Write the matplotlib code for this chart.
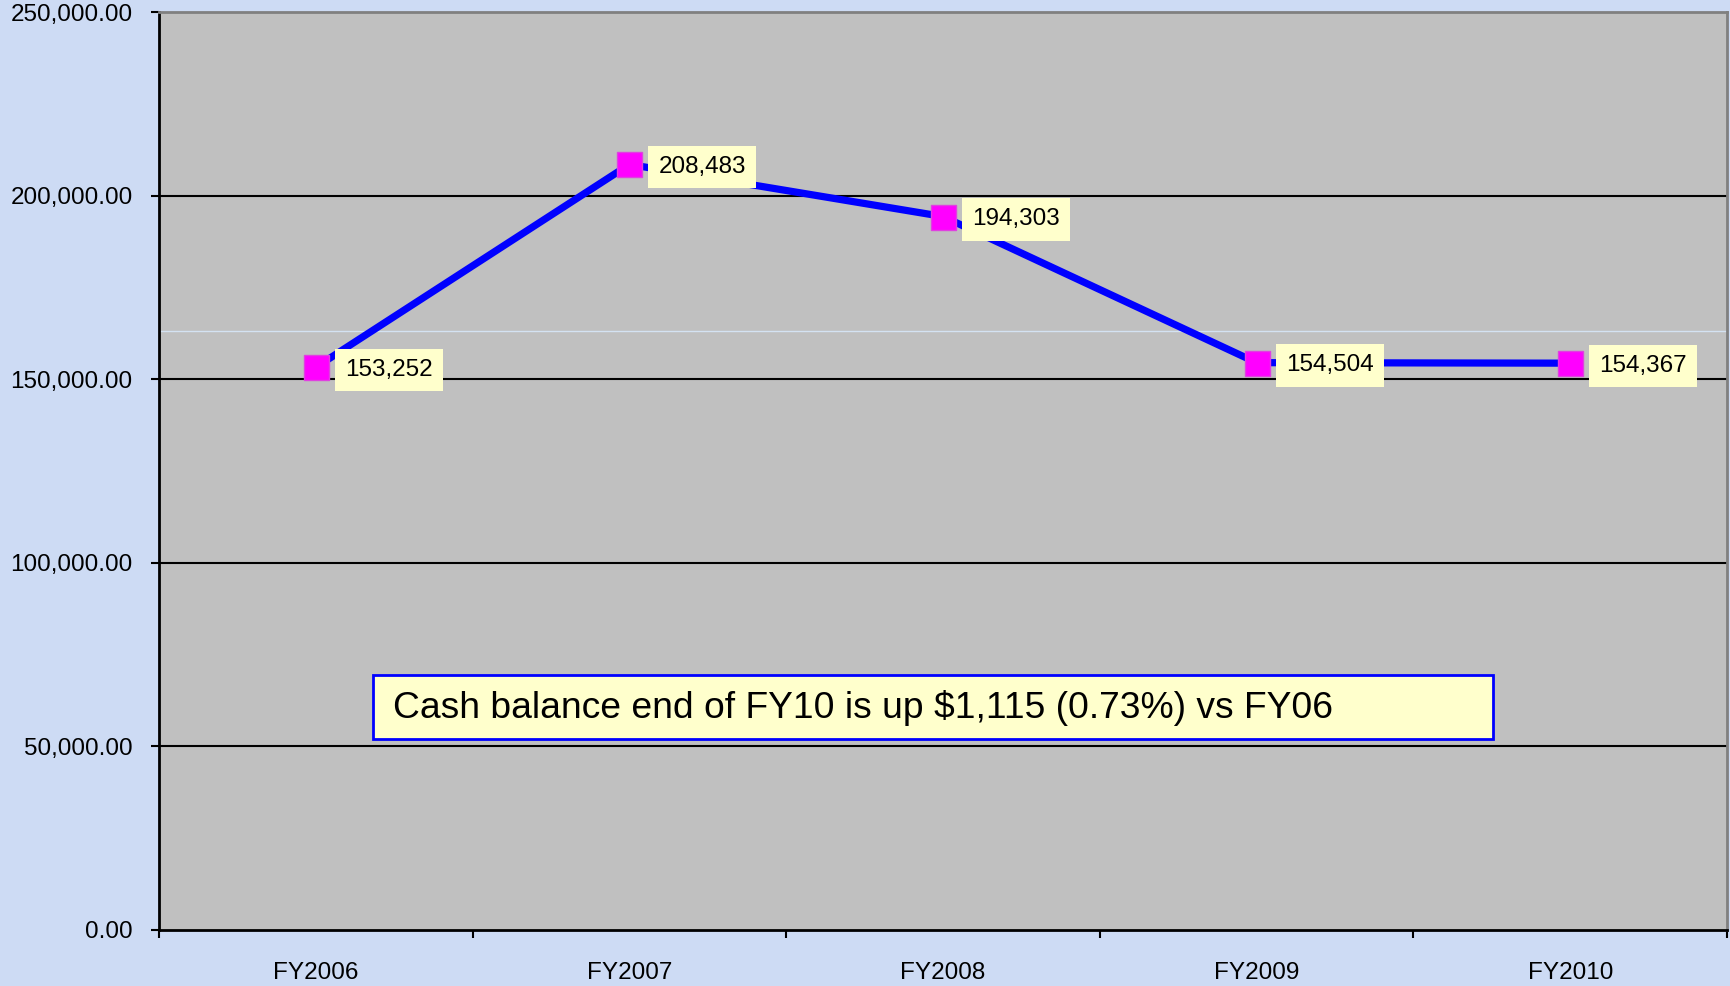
import matplotlib.pyplot as plt
from matplotlib.patches import Rectangle
from matplotlib.ticker import FuncFormatter, FixedLocator

# data
years = ['FY2006', 'FY2007', 'FY2008', 'FY2009', 'FY2010']
cash = [153252, 208483, 194303, 154504, 154367]
yticks = [0, 50000, 100000, 150000, 200000, 250000]
note = 'Cash balance end of FY10 is up $1,115 (0.73%) vs FY06'

plt.rcParams['font.family'] = ['Liberation Sans', 'DejaVu Sans']

fig = plt.figure(figsize=(17.3, 9.86), dpi=100)
fig.patch.set_facecolor('#cddbf4')
ax = fig.add_axes([159 / 1730, 1 - 930 / 986, 1568 / 1730, 918 / 986])
ax.set_facecolor('#c0c0c0')

x = list(range(len(years)))

# horizontal gridlines
for v in yticks[1:-1]:
    ax.axhline(v, color='black', lw=1.5, zorder=1)
# faint artefact line seen in the original
ax.axhline(163100, color='#d4e2f2', lw=1, zorder=1)

ax.plot(x, cash, color='#0000ff', lw=5.2, zorder=3)
ax.plot(x, cash, ls='none', marker='s', ms=18, mfc='#ff00ff',
        mec='#e040e0', mew=1, zorder=4)

#data labels
for xi, v in zip(x, cash):
    ax.annotate(f'{v:,}', (xi, v), xytext=(21, -2), textcoords='offset points',
                ha='left', va='center', fontsize=17.5, zorder=5,
                bbox=dict(boxstyle='square,pad=0.42', fc='#ffffcc', ec='none'))

# note box
ax.add_patch(Rectangle((0.1365, 0.208), 0.7143, 0.0698, transform=ax.transAxes,
                       fc='#ffffcc', ec='#0000ff', lw=2, zorder=5))
ax.text(0.149, 0.242, note, transform=ax.transAxes, ha='left', va='center',
        fontsize=26.8, zorder=6)

ax.set_xlim(-0.5, len(years) - 0.5)
ax.set_ylim(0, 250000)
ax.set_yticks(yticks)
ax.yaxis.set_major_formatter(FuncFormatter(lambda v, p: f'{v:,.2f}'))
ax.tick_params(axis='y', length=6, width=1.5, direction='out', pad=13, labelsize=17.5)

ax.set_xticks(x)
ax.set_xticklabels(years)
ax.xaxis.set_minor_locator(FixedLocator([i - 0.5 for i in range(len(years) + 1)]))
ax.tick_params(axis='x', which='major', length=0, pad=23, labelsize=17.5)
ax.tick_params(axis='x', which='minor', length=6, width=1.5, direction='out')

for s in ['left', 'bottom']:
    ax.spines[s].set_color('black')
    ax.spines[s].set_linewidth(2)
for s in ['top', 'right']:
    ax.spines[s].set_color('#808080')
    ax.spines[s].set_linewidth(2)

fig.savefig('out.png', dpi=100, facecolor=fig.get_facecolor())
